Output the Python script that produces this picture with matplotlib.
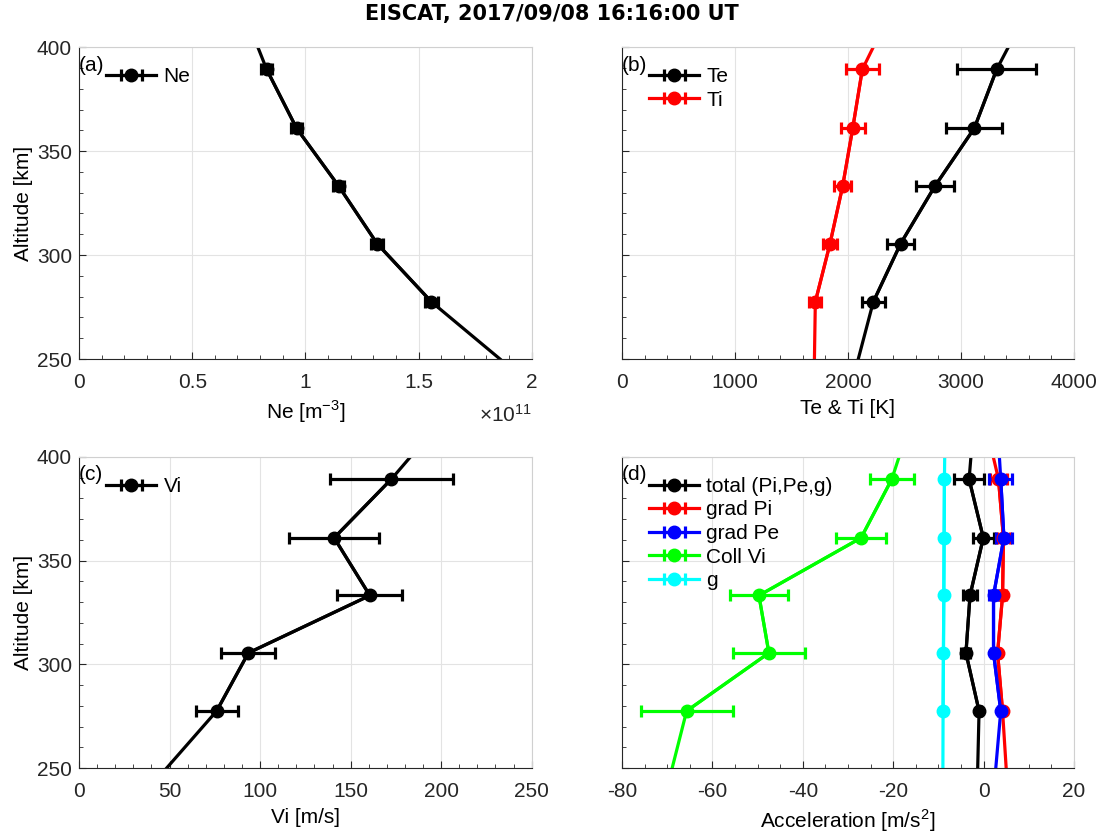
import numpy as np
import matplotlib
matplotlib.use('Agg')
import matplotlib.pyplot as plt
from matplotlib.ticker import MultipleLocator, FuncFormatter

plt.rcParams['font.family'] = ['Liberation Sans', 'DejaVu Sans']
plt.rcParams['mathtext.fontset'] = 'custom'
plt.rcParams['mathtext.rm'] = 'Liberation Sans'
plt.rcParams['axes.unicode_minus'] = False

# altitudes of the measured points [km]
alt = [277.5, 305.5, 333.2, 361.0, 389.3]
# line ends at the plot limits
alt_ends = [250, 400]

# (a) electron density
ne = [1.557e11, 1.317e11, 1.147e11, 0.961e11, 0.829e11]
ne_err = [0.03e11, 0.025e11, 0.025e11, 0.025e11, 0.025e11]
ne_ends = [1.86e11, 0.79e11]

# (b) temperatures
te = [2224, 2466, 2770, 3118, 3316]
te_err = [100, 122, 165, 248, 347]
te_ends = [2091, 3419]
ti = [1711, 1841, 1953, 2042, 2127]
ti_err = [53, 65, 78, 108, 147]
ti_ends = [1703, 2224]

# (c) ion velocity
vi = [76.0, 93.5, 160.6, 140.9, 172.5]
vi_err = [11.6, 15, 18, 25, 34]
vi_ends = [48.4, 183]

# (d) accelerations
acc_names = ['total (Pi,Pe,g)', 'grad Pi', 'grad Pe', 'Coll Vi', 'g']
acc_colors = ['black', 'red', 'blue', '#00ff00', 'cyan']
acc_total = [-1.0, -3.9, -3.0, -0.06, -3.2]
acc_total_err = [0.5, 1.0, 1.5, 2.3, 3.3]
acc_total_ends = [-1.3, -2.8]
acc_pi = [4.2, 3.1, 4.2, 4.4, 3.3]
acc_pi_err = [0.4, 0.5, 0.8, 1.5, 1.8]
acc_pi_ends = [5.0, 2.15]
acc_pe = [3.8, 2.2, 2.2, 4.5, 3.8]
acc_pe_err = [0.5, 0.6, 1.0, 1.8, 2.5]
acc_pe_ends = [2.7, 3.5]
acc_coll = [-65.7, -47.5, -49.7, -27.1, -20.3]
acc_coll_err = [10.2, 7.9, 6.4, 5.5, 4.8]
acc_coll_ends = [-68.9, -18.7]
acc_g = [-8.96, -8.88, -8.80, -8.73, -8.66]
acc_g_err = [0, 0, 0, 0, 0]
acc_g_ends = [-9.0, -8.6]

LW = 2.3


def profil(ax, x, xerr, ends, color, label):
    # đường kéo dài tới biên trục
    xs = [ends[0]] + list(x) + [ends[1]]
    ys = [alt_ends[0]] + list(alt) + [alt_ends[1]]
    ax.plot(xs, ys, color=color, lw=LW, zorder=2)
    h = ax.errorbar(x, alt, xerr=xerr, color=color, fmt='o-', ms=9, lw=LW,
                    elinewidth=LW, capsize=4.5, capthick=LW, label=label, zorder=3)
    return h


def trang_tri(ax, label, xlim, xmajor, xminor, left_labels):
    ax.set_ylim(250, 400)
    ax.set_xlim(*xlim)
    ax.xaxis.set_major_locator(MultipleLocator(xmajor))
    ax.xaxis.set_minor_locator(MultipleLocator(xminor))
    ax.yaxis.set_major_locator(MultipleLocator(50))
    ax.yaxis.set_minor_locator(MultipleLocator(10))
    ax.xaxis.set_major_formatter(FuncFormatter(lambda v, p: '%g' % v))
    ax.tick_params(which='both', direction='in', labelsize=15, colors='#262626')
    ax.tick_params(which='major', length=5, pad=5)
    ax.tick_params(axis='x', which='major', pad=10)
    ax.tick_params(which='minor', length=3)
    ax.grid(True, which='major', color='#e3e3e3', lw=0.8)
    ax.set_axisbelow(True)
    for s in ['top', 'right']:
        ax.spines[s].set_color('#d0d0d0')
    for s in ['left', 'bottom']:
        ax.spines[s].set_color('#262626')
    if left_labels:
        ax.set_ylabel('Altitude [km]', fontsize=15, labelpad=3)
    else:
        ax.set_yticklabels([])
    ax.text(0.0, 0.942, label, transform=ax.transAxes, fontsize=15,
            va='center', ha='left')
    ax.legend(loc='upper left', bbox_to_anchor=(0.06, 0.936), frameon=False,
              fontsize=15, handlelength=2.4, handletextpad=0.35,
              labelspacing=0.22, borderpad=0, borderaxespad=0)


fig = plt.figure(figsize=(11.04, 8.34), dpi=100)
ax_a = fig.add_axes([0.0716, 0.5695, 0.410, 0.374])
ax_b = fig.add_axes([0.5634, 0.5695, 0.4094, 0.374])
ax_c = fig.add_axes([0.0716, 0.0791, 0.410, 0.373])
ax_d = fig.add_axes([0.5634, 0.0791, 0.4094, 0.373])

profil(ax_a, ne, ne_err, ne_ends, 'black', 'Ne')
trang_tri(ax_a, '(a)', (0, 2e11), 0.5e11, 0.1e11, True)
ax_a.xaxis.set_major_formatter(FuncFormatter(lambda v, p: '%g' % (v / 1e11)))
ax_a.set_xlabel('Ne [m$^{-3}$]', fontsize=15, labelpad=5)
ax_a.text(1.0, -0.18, r'$\times\mathregular{10^{11}}$', transform=ax_a.transAxes,
          fontsize=15, ha='right', va='center', color='#262626')

profil(ax_b, te, te_err, te_ends, 'black', 'Te')
profil(ax_b, ti, ti_err, ti_ends, 'red', 'Ti')
trang_tri(ax_b, '(b)', (0, 4000), 1000, 200, False)
ax_b.set_xlabel('Te & Ti [K]', fontsize=15, labelpad=5)

profil(ax_c, vi, vi_err, vi_ends, 'black', 'Vi')
trang_tri(ax_c, '(c)', (0, 250), 50, 10, True)
ax_c.set_xlabel('Vi [m/s]', fontsize=15, labelpad=5)

acc_vals = [acc_total, acc_pi, acc_pe, acc_coll, acc_g]
acc_errs = [acc_total_err, acc_pi_err, acc_pe_err, acc_coll_err, acc_g_err]
acc_ends = [acc_total_ends, acc_pi_ends, acc_pe_ends, acc_coll_ends, acc_g_ends]
for name, col, v, e, en in zip(acc_names, acc_colors, acc_vals, acc_errs, acc_ends):
    profil(ax_d, v, e, en, col, name)
trang_tri(ax_d, '(d)', (-80, 20), 20, 5, False)
ax_d.set_xlabel('Acceleration [m/s$^2$]', fontsize=15, labelpad=5)

fig.suptitle('EISCAT, 2017/09/08 16:16:00 UT', fontsize=15, fontweight='bold',
             family='DejaVu Sans', y=0.995)

fig.savefig('out.png', dpi=100)
